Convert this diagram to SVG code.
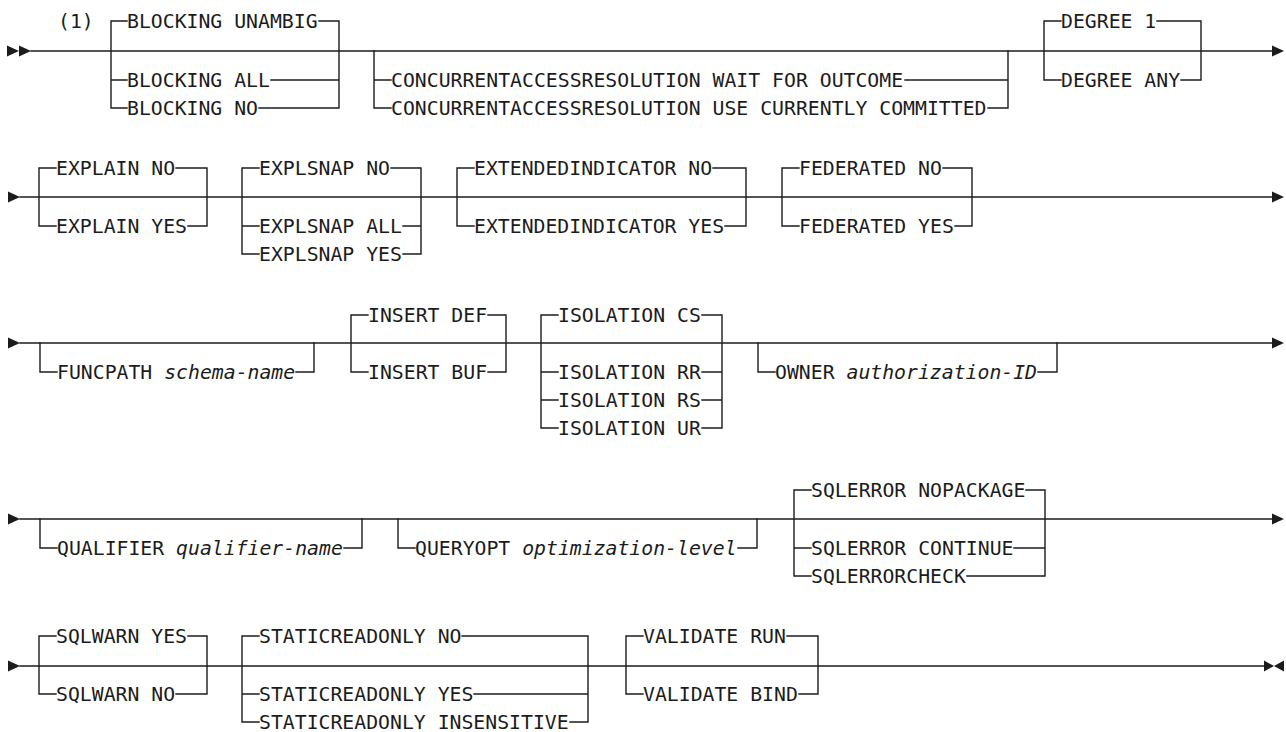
<svg xmlns="http://www.w3.org/2000/svg" xmlns:xlink="http://www.w3.org/1999/xlink" width="1286" height="732" viewBox="0 0 1286 732">
<style>
.ln{fill:none;stroke:#1c1c1c;stroke-width:1.4;stroke-linecap:square}
.t{font-family:"DejaVu Sans Mono","Liberation Mono",monospace;font-size:19.8px;fill:#1c1c1c}
.i{font-style:italic}
.ah{fill:#1c1c1c}
</style>
<defs>
<polygon id="tr" points="0,-5.5 12,0 0,5.5"/>
<polygon id="trs" points="0,-5.5 10,0 0,5.5"/>
<polygon id="tls" points="0,-5.5 -10,0 0,5.5"/>
</defs>
<rect width="1286" height="732" fill="#ffffff"/>
<g id="connectors">
<g class="ah">
<use xlink:href="#tr" x="7" y="51"/><use xlink:href="#tr" x="19" y="51"/>
<use xlink:href="#tr" x="1272" y="51"/>
<use xlink:href="#tr" x="8" y="197"/><use xlink:href="#tr" x="1272" y="197"/>
<use xlink:href="#tr" x="8" y="343"/><use xlink:href="#tr" x="1272" y="343"/>
<use xlink:href="#tr" x="8" y="519"/><use xlink:href="#tr" x="1272" y="519"/>
<use xlink:href="#tr" x="8" y="666"/>
<use xlink:href="#trs" x="1264" y="666"/><use xlink:href="#tls" x="1284" y="666"/>
</g>
<path class="ln" d="M31,51 H1272 M20,197 H1272 M20,343 H1272 M20,519 H1272 M20,666 H1264"/>
<path class="ln" d="M111,21 V108 M339,21 V108 M111,21 H127 M319,21 H339 M111,80 H127 M271,80 H339 M111,108 H127 M259,108 H339"/>
<path class="ln" d="M374,51 V108 M1008,51 V108 M374,80 H391 M905,80 H1008 M374,108 H391 M988,108 H1008"/>
<path class="ln" d="M1044,21 V80 M1201,21 V80 M1044,21 H1061 M1157,21 H1201 M1044,80 H1061 M1181,80 H1201"/>
<path class="ln" d="M39,168 V226 M207,168 V226 M39,168 H56 M176,168 H207 M39,226 H56 M188,226 H207"/>
<path class="ln" d="M242,168 V254 M421,168 V254 M242,168 H259 M391,168 H421 M242,226 H259 M403,226 H421 M242,254 H259 M403,254 H421"/>
<path class="ln" d="M457,168 V226 M746,168 V226 M457,168 H474 M713,168 H746 M457,226 H474 M725,226 H746"/>
<path class="ln" d="M782,168 V226 M972,168 V226 M782,168 H799 M943,168 H972 M782,226 H799 M955,226 H972"/>
<path class="ln" d="M40,343 V372 M314,343 V372 M40,372 H57 M296,372 H314"/>
<path class="ln" d="M351,315 V372 M506,315 V372 M351,315 H368 M488,315 H506 M351,372 H368 M488,372 H506"/>
<path class="ln" d="M541,315 V428 M722,315 V428 M541,315 H558 M702,315 H722 M541,372 H558 M702,372 H722 M541,400 H558 M702,400 H722 M541,428 H558 M702,428 H722"/>
<path class="ln" d="M758,343 V372 M1057,343 V372 M758,372 H775 M1038,372 H1057"/>
<path class="ln" d="M40,519 V548 M362,519 V548 M40,548 H57 M344,548 H362"/>
<path class="ln" d="M398,519 V548 M757,519 V548 M398,548 H415 M738,548 H757"/>
<path class="ln" d="M794,490 V576 M1045,490 V576 M794,490 H811 M1026,490 H1045 M794,548 H811 M1014,548 H1045 M794,576 H811 M967,576 H1045"/>
<path class="ln" d="M39,636 V694 M207,636 V694 M39,636 H56 M188,636 H207 M39,694 H56 M176,694 H207"/>
<path class="ln" d="M242,636 V722 M588,636 V722 M242,636 H259 M462,636 H588 M242,694 H259 M474,694 H588 M242,722 H259 M570,722 H588"/>
<path class="ln" d="M626,636 V694 M818,636 V694 M626,636 H643 M787,636 H818 M626,694 H643 M799,694 H818"/>
</g>
<g id="note"><text class="t" x="58" y="28">(1)</text></g>
<g id="blocking"><text class="t" x="127" y="28">BLOCKING UNAMBIG</text><text class="t" x="127" y="87">BLOCKING ALL</text><text class="t" x="127" y="115">BLOCKING NO</text></g>
<g id="concurrent"><text class="t" x="391" y="87">CONCURRENTACCESSRESOLUTION WAIT FOR OUTCOME</text><text class="t" x="391" y="115">CONCURRENTACCESSRESOLUTION USE CURRENTLY COMMITTED</text></g>
<g id="degree"><text class="t" x="1061" y="28">DEGREE 1</text><text class="t" x="1061" y="87">DEGREE ANY</text></g>
<g id="explain"><text class="t" x="56" y="175">EXPLAIN NO</text><text class="t" x="56" y="233">EXPLAIN YES</text></g>
<g id="explsnap"><text class="t" x="259" y="175">EXPLSNAP NO</text><text class="t" x="259" y="233">EXPLSNAP ALL</text><text class="t" x="259" y="261">EXPLSNAP YES</text></g>
<g id="extendedindicator"><text class="t" x="474" y="175">EXTENDEDINDICATOR NO</text><text class="t" x="474" y="233">EXTENDEDINDICATOR YES</text></g>
<g id="federated"><text class="t" x="799" y="175">FEDERATED NO</text><text class="t" x="799" y="233">FEDERATED YES</text></g>
<g id="funcpath"><text class="t" x="57" y="379">FUNCPATH <tspan class="i">schema-name</tspan></text></g>
<g id="insert"><text class="t" x="368" y="322">INSERT DEF</text><text class="t" x="368" y="379">INSERT BUF</text></g>
<g id="isolation"><text class="t" x="558" y="322">ISOLATION CS</text><text class="t" x="558" y="379">ISOLATION RR</text><text class="t" x="558" y="407">ISOLATION RS</text><text class="t" x="558" y="435">ISOLATION UR</text></g>
<g id="owner"><text class="t" x="775" y="379">OWNER <tspan class="i">authorization-ID</tspan></text></g>
<g id="qualifier"><text class="t" x="57" y="555">QUALIFIER <tspan class="i">qualifier-name</tspan></text></g>
<g id="queryopt"><text class="t" x="415" y="555">QUERYOPT <tspan class="i">optimization-level</tspan></text></g>
<g id="sqlerror"><text class="t" x="811" y="497">SQLERROR NOPACKAGE</text><text class="t" x="811" y="555">SQLERROR CONTINUE</text><text class="t" x="811" y="583">SQLERRORCHECK</text></g>
<g id="sqlwarn"><text class="t" x="56" y="643">SQLWARN YES</text><text class="t" x="56" y="701">SQLWARN NO</text></g>
<g id="staticreadonly"><text class="t" x="259" y="643">STATICREADONLY NO</text><text class="t" x="259" y="701">STATICREADONLY YES</text><text class="t" x="259" y="729">STATICREADONLY INSENSITIVE</text></g>
<g id="validate"><text class="t" x="643" y="643">VALIDATE RUN</text><text class="t" x="643" y="701">VALIDATE BIND</text></g>
</svg>
